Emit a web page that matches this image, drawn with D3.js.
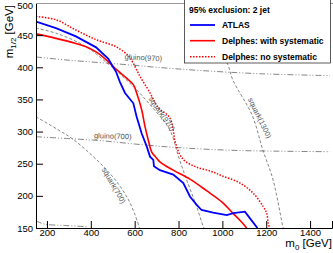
<!DOCTYPE html>
<html>
<head>
<meta charset="utf-8">
<script src="https://cdn.jsdelivr.net/npm/d3@7"></script>
<style>
  body { margin: 0; background: #fff; }
  svg text { font-family: "Liberation Sans", Arial, Helvetica, sans-serif; }
</style>
</head>
<body>
<div id="chart"></div>
<script>
// frame of the plot
const W = 333, H = 253;
const margin = {top: 3, right: 1, bottom: 25, left: 36};

// ATLAS observed limit
const atlasM0  = [150, 241, 332, 424, 480, 515, 533, 556, 594, 609, 632, 655, 670, 685, 688, 715, 776, 822, 852, 883, 905, 958, 1020, 1050, 1103, 1126, 1160];
const atlasM12 = [471, 461, 448, 431, 413, 393, 377, 360, 344, 323, 297, 277, 261, 256, 246, 240, 233, 220, 199, 186, 178, 174, 170, 173, 175.5, 165, 150];

// Delphes with systematic
const sysM0  = [150, 241, 332, 378, 424, 469, 515, 560, 594, 609, 632, 647, 662, 678, 692, 715, 776, 852, 928, 1000, 1045, 1080, 1111];
const sysM12 = [452, 445, 437, 432, 424, 412, 397, 384, 373, 360, 334, 308, 287, 268, 262, 253, 240, 226, 208, 190, 174, 162, 150];

// Delphes without systematic
const nosysM0  = [150, 241, 332, 424, 515, 571, 594, 624, 667, 706, 761, 785, 805, 830, 880, 950, 1000, 1080, 1141, 1187, 1202, 1209, 1215];
const nosysM12 = [479, 474, 458, 443, 432, 418, 406, 386, 362, 338, 321, 284, 265, 254, 245, 238, 231, 220, 204, 183, 173, 158, 150];

// iso-mass reference lines
const gluino970M0  = [150, 300, 530, 700, 900, 1170, 1490];
const gluino970M12 = [416, 411, 405, 400, 395, 390, 387];
const gluino700M0  = [150, 300, 440, 620, 800, 1030, 1250, 1490];
const gluino700M12 = [292, 289, 286, 280, 275, 271, 269.5, 268.7];
const gluinoLowM0  = [150, 190, 280, 380];
const gluinoLowM12 = [161, 156, 154, 152];
const squark700M0  = [150, 250, 323, 442, 518, 570, 600, 622];
const squark700M12 = [323, 303, 287, 251, 222, 195, 172, 150];
const squark970M0  = [150, 250, 378, 480, 579, 680, 761, 799, 837, 883, 913, 916];
const squark970M12 = [461, 452, 432, 405, 375, 338, 302, 262, 225, 183, 152, 150];
const squark1300M0  = [966, 1025, 1048, 1135, 1185, 1231, 1276, 1278];
const squark1300M12 = [442, 404, 380, 326, 271, 225, 152, 150];

const xTicks = [200, 400, 600, 800, 1000, 1200, 1400];
const yTicks = [150, 200, 250, 300, 350, 400, 450, 500];

const legendLabels = ["ATLAS", "Delphes: with systematic", "Delphes: no systematic"];

const svg = d3.select("#chart").append("svg")
    .attr("width", W)
    .attr("height", H);

const x = d3.scaleLinear().domain([150, 1500]).range([margin.left, W - margin.right]);
const y = d3.scaleLinear().domain([150, 500]).range([H - margin.bottom, margin.top]);

svg.append("clipPath").attr("id", "clip")
  .append("rect")
    .attr("x", margin.left).attr("y", margin.top)
    .attr("width", W - margin.right - margin.left)
    .attr("height", H - margin.bottom - margin.top);

const plot = svg.append("g").attr("clip-path", "url(#clip)");

function pts(xs, ys) { return xs.map((v, i) => [v, ys[i]]); }

const smooth = d3.line().x(d => x(d[0])).y(d => y(d[1])).curve(d3.curveCatmullRom);
const straight = d3.line().x(d => x(d[0])).y(d => y(d[1]));

// gray reference lines
const dashDot = "6,2,1,2,1,2";
const refs = [
  [gluino970M0, gluino970M12, dashDot],
  [gluino700M0, gluino700M12, dashDot],
  [gluinoLowM0, gluinoLowM12, dashDot],
  [squark700M0, squark700M12, "3,2"],
  [squark970M0, squark970M12, "3,2"],
  [squark1300M0, squark1300M12, "3,2"]
];
refs.forEach(r => {
  plot.append("path")
    .attr("d", smooth(pts(r[0], r[1])))
    .attr("fill", "none")
    .attr("stroke", "#666")
    .attr("stroke-width", 0.8)
    .attr("stroke-dasharray", r[2]);
});

// labels for the reference lines
const refLabels = [
  {t: "gluino(970)", m0: 640, m12: 415, a: 3},
  {t: "gluino(700)", m0: 500, m12: 293, a: 2},
  {t: "squark(970)", m0: 724, m12: 328, a: 55},
  {t: "squark(700)", m0: 505, m12: 216, a: 60},
  {t: "squark(1300)", m0: 1171, m12: 321, a: 64}
];
refLabels.forEach(l => {
  svg.append("text")
    .attr("transform", `translate(${x(l.m0)},${y(l.m12)}) rotate(${l.a})`)
    .attr("text-anchor", "middle")
    .attr("dy", "0.35em")
    .attr("font-size", 7.5)
    .attr("fill", "#555")
    .text(l.t);
});

// limit curves
plot.append("path")
  .attr("d", smooth(pts(nosysM0, nosysM12)))
  .attr("fill", "none").attr("stroke", "#ff0000")
  .attr("stroke-width", 1.5).attr("stroke-dasharray", "1.5,1.5");

plot.append("path")
  .attr("d", smooth(pts(sysM0, sysM12)))
  .attr("fill", "none").attr("stroke", "#ff0000")
  .attr("stroke-width", 1.6);

plot.append("path")
  .attr("d", straight(pts(atlasM0, atlasM12)))
  .attr("fill", "none").attr("stroke", "#0000ff")
  .attr("stroke-width", 1.8);

// axes, ticks inside
const gx = svg.append("g").attr("transform", `translate(0,${y(150)})`);
gx.call(d3.axisBottom(x).tickValues(d3.range(150, 1501, 50)).tickSize(-3.5).tickFormat(""));
gx.call(d3.axisBottom(x).tickValues(xTicks).tickSize(-7).tickPadding(1).tickFormat(d3.format("d")));
gx.selectAll("text").attr("font-size", 9.5).attr("fill", "#000");
gx.selectAll("line, path").attr("stroke", "#000");

const gy = svg.append("g").attr("transform", `translate(${x(150)},0)`);
gy.call(d3.axisLeft(y).tickValues(d3.range(150, 501, 10)).tickSize(-3.5).tickFormat(""));
gy.call(d3.axisLeft(y).tickValues(yTicks).tickSize(-7).tickPadding(3).tickFormat(d3.format("d")));
gy.selectAll("text").attr("font-size", 9.5).attr("fill", "#000");
gy.selectAll("line, path").attr("stroke", "#000");
// keep the top label inside the picture
gy.selectAll(".tick text").filter(d => d === 500).attr("dy", "0.55em");

// top frame line
svg.append("line")
  .attr("x1", x(150)).attr("x2", W).attr("y1", y(500) + 0.5).attr("y2", y(500) + 0.5)
  .attr("stroke", "#999");

// axis titles
const xt = svg.append("text")
  .attr("x", W - 1).attr("y", 247)
  .attr("text-anchor", "end")
  .attr("font-size", 11.5);
xt.append("tspan").text("m");
xt.append("tspan").attr("font-size", 8).attr("dy", 2.5).text("0");
xt.append("tspan").attr("dy", -2.5).text(" [GeV]");

const yt = svg.append("text")
  .attr("transform", `translate(13,5) rotate(-90)`)
  .attr("text-anchor", "end")
  .attr("font-size", 11.5);
yt.append("tspan").text("m");
yt.append("tspan").attr("font-size", 8).attr("dy", 2.5).text("1/2");
yt.append("tspan").attr("dy", -2.5).text(" [GeV]");

// legend
const lg = svg.append("g");
lg.append("rect")
  .attr("x", 184.5).attr("y", -1).attr("width", 146).attr("height", 64)
  .attr("fill", "#fff").attr("stroke", "#333").attr("stroke-width", 0.8);
lg.append("text").attr("x", 189).attr("y", 13)
  .attr("font-size", 8.5).attr("font-weight", "bold")
  .text("95% exclusion: 2 jet");
const styles = [
  {c: "#0000ff", w: 1.8, d: null},
  {c: "#ff0000", w: 1.6, d: null},
  {c: "#ff0000", w: 1.5, d: "1.5,1.5"}
];
const legendY = [25, 40.7, 56.7];
legendLabels.forEach((t, i) => {
  lg.append("line")
    .attr("x1", 190).attr("x2", 215).attr("y1", legendY[i]).attr("y2", legendY[i])
    .attr("stroke", styles[i].c).attr("stroke-width", styles[i].w)
    .attr("stroke-dasharray", styles[i].d);
  lg.append("text").attr("x", 222).attr("y", legendY[i] + 3)
    .attr("font-size", 8.5).attr("font-weight", "bold")
    .text(t);
});
</script>
</body>
</html>
